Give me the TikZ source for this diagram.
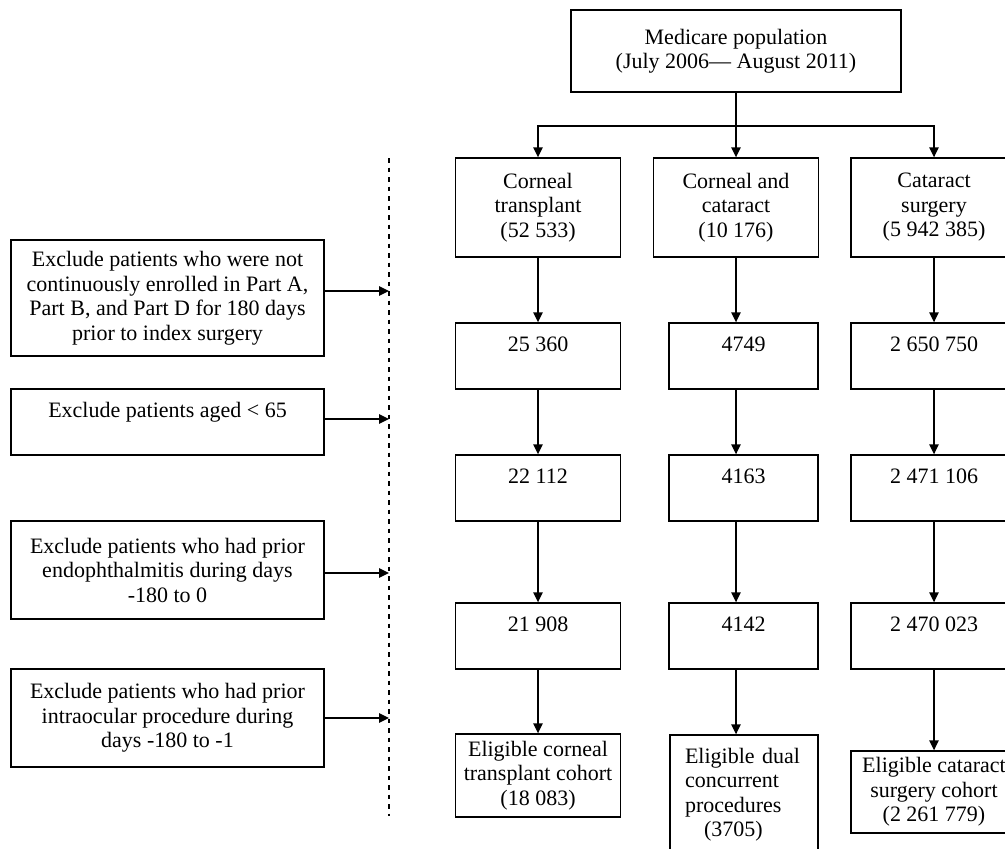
\documentclass[tikz,border=0pt]{standalone}
\usepackage{fontspec}
\setmainfont{Liberation Serif}
\usetikzlibrary{arrows.meta}

\begin{document}
\begin{tikzpicture}[x=1pt, y=-1pt, font=\fontsize{22}{24.5}\selectfont,
		box/.style={draw, line width=1.4pt, inner sep=0pt, align=center},
		onebox/.style={box, text height=28pt, text depth=38pt},
		arr/.style={line width=1.4pt, -{Triangle[length=10pt, width=9.5pt]}},
		cutline/.style={line width=1.2pt, dash pattern=on 4.5pt off 5pt}]
				\useasboundingbox (0,0) rectangle (1005,849);
				% population and the three groups
				\node[box, minimum width=330pt, minimum height=82pt] (med) at (736,51) {Medicare population\\(July 2006— August 2011)};
				\node[box, minimum width=165pt, minimum height=99pt] (ct1) at (538,207.5) {Corneal\\transplant\\(52 533)};
				\node[box, minimum width=165pt, minimum height=99pt] (cc1) at (736,207.5) {Corneal and\\cataract\\(10 176)};
				\node[box, minimum width=166pt, minimum height=99pt] (cs1) at (934,207.5) {Cataract\\surgery\\(5 942 385)};
				\foreach \row/\y/\na/\nb/\nc in {2/356/{25 360}/4749/{2 650 750}, 3/488/{22 112}/4163/{2 471 106}, 4/636/{21 908}/4142/{2 470 023}} {
					\node[onebox, minimum width=165pt] (ct\row) at (538,\y) {\na};
					\node[onebox, minimum width=149pt] (cc\row) at (743.5,\y) {\nb};
					\node[onebox, minimum width=166pt] (cs\row) at (934,\y) {\nc};
				}
				\node[box, minimum width=165pt, minimum height=83pt] (ct5) at (538,775.5) {Eligible corneal\\transplant cohort\\(18 083)};
				\node[box, align=left, text width=118pt, minimum width=148pt, minimum height=119pt] (cc5) at (744,794.5) {Eligible dual\\concurrent\\procedures\\\hspace*{19pt}(3705)};
				\node[box, minimum width=166pt, minimum height=82pt] (cs5) at (934,792) {Eligible cataract\\surgery cohort\\(2 261 779)};
				% exclusions
				\node[box, minimum width=313pt, minimum height=116pt] (ex1) at (167.5,298) {Exclude patients who were not\\continuously enrolled in Part A,\\Part B, and Part D for 180 days\\prior to index surgery};
				\node[onebox, minimum width=313pt] (ex2) at (167.5,422) {Exclude patients aged < 65};
				\node[box, minimum width=313pt, minimum height=98pt] (ex3) at (167.5,570) {Exclude patients who had prior\\endophthalmitis during days\\-180 to 0};
				\node[box, minimum width=313pt, minimum height=98pt] (ex4) at (167.5,718) {Exclude patients who had prior\\intraocular procedure during\\days -180 to -1};
				\coordinate (dtop) at (389,158);
				\coordinate (dbot) at (389,816);
				\draw[cutline] (dtop) -- (dbot);
				\foreach \i/\y in {1/291, 2/419, 3/573, 4/718} {
					\coordinate (d\i) at (389,\y);
					\draw[arr] (d\i -| ex\i.east) -- (d\i);
				}
				% arrows
				\coordinate (split) at (736,126);
				\draw[line width=1.4pt] (med) -- (split);
				\draw[arr] (split) -| (ct1);
				\draw[arr] (split) -| (cs1);
				\draw[arr] (split) -- (cc1);
				\foreach \col in {ct,cc,cs}
					\foreach \row/\nxt in {1/2, 2/3, 3/4, 4/5}
						\draw[arr] (\col1 |- \col\row.south) -- (\col1 |- \col\nxt.north);
			\end{tikzpicture}
\end{document}
